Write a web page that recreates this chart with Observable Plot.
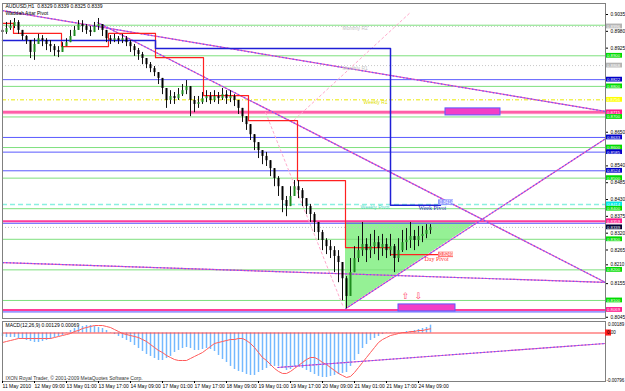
<!DOCTYPE html>
<html><head><meta charset="utf-8">
<script src="https://cdn.jsdelivr.net/npm/d3@7"></script>
<script src="https://cdn.jsdelivr.net/npm/@observablehq/plot@0.6"></script>
<style>
html,body{margin:0;padding:0;background:#fff;}
#wrap{width:625px;}
#wrap svg{display:block;overflow:visible;}
</style></head><body><div id="wrap"></div>
<script>
// ---------- DATA (AUDUSD H1, 11–24 May 2010) ----------
// candles: one every 2 hourly bars; x index = 2*k (bar number)
const firstOpen = 0.8983;
const candleClose = [0.8976,0.8989,0.8996,0.9009,0.8983,0.8963,0.8950,0.8911,0.8937,0.8956,
0.8950,0.8937,0.8930,0.8917,0.8911,0.8930,0.8943,0.8963,0.8983,0.9002,
0.8996,0.8983,0.8976,0.8996,0.9002,0.8983,0.8956,0.8950,0.8956,0.8950,
0.8956,0.8943,0.8930,0.8917,0.8904,0.8891,0.8871,0.8858,0.8845,0.8826,
0.8793,0.8754,0.8767,0.8760,0.8773,0.8786,0.8799,0.8754,0.8741,0.8747,
0.8760,0.8767,0.8754,0.8767,0.8760,0.8773,0.8760,0.8767,0.8754,0.8728,
0.8701,0.8675,0.8642,0.8616,0.8590,0.8571,0.8557,0.8531,0.8499,0.8472,
0.8427,0.8407,0.8440,0.8472,0.8459,0.8433,0.8407,0.8381,0.8355,0.8322,
0.8296,0.8276,0.8263,0.8244,0.8224,0.8171,0.8113,0.8191,0.8237,0.8263,
0.8283,0.8263,0.8276,0.8289,0.8270,0.8283,0.8263,0.8276,0.8237,0.8263,
0.8289,0.8296,0.8309,0.8296,0.8309,0.8316,0.8329,0.8339];
const candleHigh = [0.8996,0.9009,0.9015,0.9022,0.9015,0.8983,0.8966,0.8950,0.8956,0.8970,
0.8966,0.8956,0.8950,0.8937,0.8930,0.8943,0.8956,0.8983,0.8996,0.9015,
0.9015,0.9002,0.8996,0.9009,0.9022,0.9002,0.8983,0.8966,0.8970,0.8963,
0.8970,0.8963,0.8950,0.8937,0.8924,0.8911,0.8891,0.8878,0.8865,0.8845,
0.8819,0.8786,0.8786,0.8780,0.8793,0.8806,0.8819,0.8799,0.8767,0.8767,
0.8780,0.8786,0.8780,0.8786,0.8780,0.8793,0.8786,0.8786,0.8773,0.8754,
0.8728,0.8701,0.8675,0.8642,0.8616,0.8590,0.8584,0.8557,0.8531,0.8505,
0.8466,0.8440,0.8472,0.8492,0.8492,0.8466,0.8433,0.8414,0.8387,0.8355,
0.8329,0.8302,0.8296,0.8276,0.8263,0.8224,0.8178,0.8237,0.8276,0.8309,
0.8355,0.8302,0.8316,0.8329,0.8309,0.8316,0.8302,0.8316,0.8283,0.8302,
0.8329,0.8335,0.8355,0.8329,0.8342,0.8342,0.8348,0.8348];
const candleLow = [0.8963,0.8970,0.8983,0.8989,0.8970,0.8950,0.8937,0.8891,0.8885,0.8937,
0.8930,0.8917,0.8911,0.8898,0.8894,0.8911,0.8930,0.8943,0.8963,0.8983,
0.8976,0.8970,0.8963,0.8976,0.8983,0.8963,0.8943,0.8937,0.8943,0.8937,
0.8940,0.8930,0.8911,0.8898,0.8885,0.8871,0.8858,0.8845,0.8832,0.8806,
0.8773,0.8728,0.8741,0.8741,0.8754,0.8767,0.8773,0.8701,0.8714,0.8728,
0.8741,0.8747,0.8741,0.8747,0.8741,0.8754,0.8741,0.8747,0.8734,0.8708,
0.8682,0.8656,0.8623,0.8590,0.8564,0.8544,0.8538,0.8505,0.8472,0.8440,
0.8387,0.8374,0.8407,0.8440,0.8433,0.8407,0.8381,0.8355,0.8322,0.8296,
0.8263,0.8250,0.8237,0.8191,0.8158,0.8099,0.8073,0.8132,0.8198,0.8224,
0.8244,0.8224,0.8237,0.8250,0.8230,0.8244,0.8237,0.8244,0.8191,0.8224,
0.8257,0.8263,0.8270,0.8263,0.8276,0.8289,0.8302,0.8316];

// MACD(12,26,9): main (histogram) and signal, same candles
const macdMain = [-0.00057,-0.00074,-0.00074,-0.00074,-0.00090,-0.00107,-0.00123,-0.00139,-0.00156,-0.00156,
-0.00139,-0.00123,-0.00107,-0.00074,-0.00057,-0.00041,-0.00008,0.00041,0.00074,0.00090,
0.00107,0.00123,0.00123,0.00107,0.00090,0.00074,0.00041,0.00008,-0.00025,-0.00057,
-0.00090,-0.00123,-0.00156,-0.00205,-0.00254,-0.00303,-0.00353,-0.00385,-0.00418,-0.00451,
-0.00451,-0.00418,-0.00385,-0.00320,-0.00287,-0.00254,-0.00238,-0.00254,-0.00287,-0.00287,
-0.00271,-0.00254,-0.00271,-0.00303,-0.00369,-0.00435,-0.00484,-0.00549,-0.00599,-0.00631,
-0.00648,-0.00681,-0.00697,-0.00697,-0.00648,-0.00615,-0.00582,-0.00549,-0.00549,-0.00549,
-0.00582,-0.00615,-0.00599,-0.00549,-0.00549,-0.00582,-0.00615,-0.00648,-0.00681,-0.00713,
-0.00730,-0.00730,-0.00713,-0.00697,-0.00681,-0.00664,-0.00648,-0.00549,-0.00451,-0.00353,
-0.00254,-0.00189,-0.00123,-0.00090,-0.00057,-0.00025,-0.00008,0.00008,0.00008,0.00008,
0.00008,0.00025,0.00025,0.00041,0.00057,0.00074,0.00090,0.00129];
const macdSignal = [-0.00156,-0.00139,-0.00123,-0.00107,-0.00090,-0.00090,-0.00090,-0.00090,-0.00090,-0.00090,
-0.00090,-0.00090,-0.00090,-0.00074,-0.00057,-0.00041,-0.00025,-0.00008,0.00025,0.00041,
0.00074,0.00090,0.00107,0.00123,0.00123,0.00123,0.00107,0.00090,0.00057,0.00025,
-0.00008,-0.00025,-0.00041,-0.00057,-0.00074,-0.00107,-0.00139,-0.00189,-0.00238,-0.00287,
-0.00320,-0.00369,-0.00402,-0.00435,-0.00451,-0.00451,-0.00451,-0.00418,-0.00385,-0.00353,
-0.00320,-0.00271,-0.00221,-0.00172,-0.00156,-0.00139,-0.00123,-0.00107,-0.00107,-0.00090,
-0.00090,-0.00123,-0.00172,-0.00238,-0.00320,-0.00402,-0.00451,-0.00517,-0.00582,-0.00631,
-0.00664,-0.00664,-0.00631,-0.00582,-0.00533,-0.00484,-0.00435,-0.00402,-0.00402,-0.00435,
-0.00484,-0.00517,-0.00566,-0.00615,-0.00664,-0.00697,-0.00730,-0.00713,-0.00648,-0.00566,
-0.00484,-0.00402,-0.00320,-0.00238,-0.00156,-0.00107,-0.00074,-0.00041,-0.00025,-0.00008,
0.00008,0.00008,0.00025,0.00025,0.00041,0.00041,0.00057,0.00069];

// time axis (bar index of each label)
const timeTickBars = [0,16,32,48,64,80,96,112,128,144,160,176,192,208];
const timeTickLabels = ["11 May 2010","12 May 09:00","13 May 01:00","13 May 17:00","14 May 09:00","17 May 01:00","17 May 17:00","18 May 09:00","19 May 01:00","19 May 17:00","20 May 09:00","21 May 01:00","21 May 17:00","24 May 09:00"];
const lastBar = 301.5;

// price scale ticks that are visible (others are covered by price tags)
const priceTicks = [0.9035,0.8980,0.8925,0.8650,0.8540,0.8485,0.8430,0.8375,0.8320,0.8265,0.8155,0.8045];
const priceTicksTight = [0.8210];   // sits just above the 0.8200 tag
const priceMin = 0.8041, priceMax = 0.9071;

// horizontal levels (tagged = has a price tag on the scale)
const levelPrice = [0.9000,0.8996,0.8900,0.8868,0.8822,0.8800,0.8756,0.8715,0.8700,0.8633,0.8600,0.8585,0.8524,0.8500,0.8414,0.8400,0.8359,0.8339,0.8300,0.8200,0.8100,0.8069];
const levelKind  = ["round","monthly","round","monthly","blue","round","weeklyR1","pink","round","blue","round","blue","blue","round","weeklyPivot","round","pinkBlue","bid","round","round","round","pinkBlue"];
const levelTagged = [false,true,true,true,true,true,true,true,true,true,true,true,true,true,true,true,true,true,true,true,true,true];

// trend lines
const trendBar1   = [0, 47.5, 171.5, 0];
const trendPrice1 = [0.9048, 0.9009, 0.8073, 0.8224];
const trendBar2   = [301.5, 301.5, 301.5, 301.5];
const trendPrice2 = [0.8718, 0.8159, 0.8629, 0.8159];

// dashed fan lines
const fanBar1 = [145.5, 131.5];
const fanPrice1 = [0.8688, 0.8715];
const fanBar2 = [204, 170.5];
const fanPrice2 = [0.9042, 0.8077];

// Waddah Attar daily pivot (red) and weekly pivot (blue) steps
const dayPivotBar   = [0,5.5,29.5,53,76.5,100.5,123,147.5,171.5,194,219];
const dayPivotPrice = [0.9006,0.8973,0.8930,0.8973,0.8894,0.8770,0.8688,0.8492,0.8273,0.8250,0.8250];
const weekPivotBar   = [0,76.5,194,219];
const weekPivotPrice = [0.8950,0.8924,0.8411,0.8411];

// triangle (green)
const triBar = [171.5, 238];
const triLow = [0.8073, 0.8359];
const triTop = [0.8359, 0.8359];

// magenta zones
const zoneBar1 = [221.5, 198];
const zoneBar2 = [249, 226.5];
const zonePrice1 = [0.8705, 0.8064];
const zonePrice2 = [0.8728, 0.8087];

// arrows
const arrowBar = [201.5, 208];
const arrowPrice = [0.8113, 0.8113];
const arrowGlyph = ["⇧","⇩"];

// object labels
const noteText  = ["Monthly R2","Monthly R1","Weekly R1","Weekly Pivot"];
const noteBar   = [170, 170, 180.5, 179];
const notePrice = [0.8990, 0.8858, 0.8747, 0.8404];
const noteKind  = ["monthly","monthly","weeklyR1","weeklyPivot"];
const pivotTagText  = ["Week Pivot","Day Pivot"];
const pivotTagBar   = [208, 211];
const pivotTagPrice = [0.8401, 0.8234];
const pivotBoxValue = [0.8414, 0.8249];
const pivotBoxPrice = [0.8420, 0.8249];
const pivotBoxBar   = [218, 218];

// MACD trend line
const macdTrendBar = [137.5, 301.5];
const macdTrendVal = [-0.00566, -0.00172];
const macdTicks = [0.00189, -0.00796];
const macdMin = -0.00796, macdMax = 0.00189;

const header1 = "AUDUSD,H1  0.8329 0.8339 0.8325 0.8339";
const header2 = "Waddah Attar Pivot";
const macdHeader = "MACD(12,26,9) 0.00129 0.00069";
const copyright = "IXON Royal Trader, © 2001-2009 MetaQuotes Software Corp.";

// ---------- BUILD ----------
const FONT = "'Liberation Sans', Arial, sans-serif";
const candles = candleClose.map((c, i) => {
  const open = i === 0 ? firstOpen : candleClose[i - 1];
  return {x: 2 * i, open, close: c,
    high: Math.max(candleHigh[i], open, c), low: Math.min(candleLow[i], open, c)};
});
const levels = levelPrice.map((p, i) => ({price: p, kind: levelKind[i], tagged: levelTagged[i], x1: lastBar, x2: lastBar + 8.5}));
const tagged = levels.filter(d => d.tagged);
const kindStyle = {
  round:       {stroke: "#7ee07e", dash: null,      width: 1,   label: "#00dc00", text: "#c4c4c4"},
  monthly:     {stroke: "#c8c8c8", dash: "1,2",     width: 1,   label: "#b4b4b4", text: "#c4c4c4"},
  blue:        {stroke: "#5a5aff", dash: null,      width: 1,   label: "#0000c8", text: "#2a2ac0"},
  weeklyR1:    {stroke: "#eaea00", dash: "4,2,1,2", width: 1,   label: "#ffff00", text: "#e0e000"},
  pink:        {stroke: "#ff5fa8", dash: null,      width: 2.5, label: "#ff1a8c", text: "#ff3030"},
  pinkBlue:    {stroke: "#ff3d9a", dash: null,      width: 2,   label: "#ff1a8c", text: "#ff3030"},
  weeklyPivot: {stroke: "#8af0e0", dash: "5,3",     width: 1.5, label: "#00e8e8", text: "#4fd8c8"},
  bid:         {stroke: "#c0c0c0", dash: "1,2",     width: 1,   label: "#000033", text: "#000"}
};
const trends = trendBar1.map((b, i) => ({x1: b, y1: trendPrice1[i], x2: trendBar2[i], y2: trendPrice2[i]}));
const fans = fanBar1.map((b, i) => ({x1: b, y1: fanPrice1[i], x2: fanBar2[i], y2: fanPrice2[i]}));
const daySteps = dayPivotBar.map((b, i) => ({x: b, y: dayPivotPrice[i]}));
const weekSteps = weekPivotBar.map((b, i) => ({x: b, y: weekPivotPrice[i]}));
const tri = triBar.map((b, i) => ({x: b, lo: triLow[i], hi: triTop[i]}));
const zones = zoneBar1.map((b, i) => ({x1: b, x2: zoneBar2[i], y1: zonePrice1[i], y2: zonePrice2[i]}));
const arrows = arrowBar.map((b, i) => ({x: b, y: arrowPrice[i], t: arrowGlyph[i]}));
const notes = noteText.map((t, i) => ({t, x: noteBar[i], y: notePrice[i], c: kindStyle[noteKind[i]].text}));
const tags = pivotTagText.map((t, i) => ({t, x: pivotTagBar[i], y: pivotTagPrice[i], c: i === 0 ? "#2a2ac0" : "#ff3030",
  bx1: pivotBoxBar[i], bx2: pivotBoxBar[i] + 7.5, by: pivotBoxPrice[i], bv: pivotBoxValue[i], bc: i === 0 ? "#8c96ff" : "#ff7a7a"}));
const labelHalf = 0.00078;

const levelMarks = [];
for (const k of Object.keys(kindStyle)) {
  const s = kindStyle[k];
  const d = levels.filter(l => l.kind === k);
  if (!d.length) continue;
  if (k === "pinkBlue") levelMarks.push(Plot.ruleY(d, {y: "price", stroke: "#4f4fff", strokeWidth: 1, dy: 2}));
  if (k === "pink") levelMarks.push(Plot.ruleY(d, {y: "price", stroke: "#ffc0dc", strokeWidth: 4}));
  levelMarks.push(Plot.ruleY(d, {y: "price", stroke: s.stroke, strokeWidth: s.width, strokeDasharray: s.dash}));
}

const main = Plot.plot({
  width: 625, height: 320, marginTop: 3, marginBottom: 2, marginLeft: 2, marginRight: 20,
  style: {fontFamily: FONT, fontSize: "5px", background: "#fff", overflow: "visible"},
  x: {domain: [0, lastBar], axis: null},
  y: {domain: [priceMin, priceMax], axis: null},
  marks: [
    Plot.areaY(tri, {x: "x", y1: "lo", y2: "hi", fill: "#8ff08f", fillOpacity: 0.95}),
    ...levelMarks,
    Plot.link(fans, {x1: "x1", y1: "y1", x2: "x2", y2: "y2", stroke: "#ffaacc", strokeDasharray: "3,2", strokeWidth: 1}),
    Plot.link(trends, {x1: "x1", y1: "y1", x2: "x2", y2: "y2", stroke: "#f050b8", strokeWidth: 1.2}),
    Plot.link(trends, {x1: "x1", y1: "y1", x2: "x2", y2: "y2", stroke: "#6a5cff", strokeWidth: 1.2, strokeDasharray: "1.5,2"}),
    Plot.line(daySteps, {x: "x", y: "y", curve: "step-after", stroke: "#ff2020", strokeWidth: 1.2}),
    Plot.line(weekSteps, {x: "x", y: "y", curve: "step-after", stroke: "#1f1fd6", strokeWidth: 1.5}),
    Plot.ruleX(candles, {x: "x", y1: "low", y2: "high", stroke: "#111", strokeWidth: 1}),
    Plot.ruleX(candles, {x: "x", y1: "open", y2: "close", stroke: d => d.close >= d.open ? "#1e8c1e" : "#000", strokeWidth: 2}),
    Plot.rect(zones, {x1: "x1", x2: "x2", y1: "y1", y2: "y2", fill: "#f23fc6", stroke: "#5a5aff", strokeWidth: 1}),
    Plot.text(arrows, {x: "x", y: "y", text: "t", fill: "#ff4466", fontSize: 9, fontFamily: "DejaVu Sans"}),
    Plot.text(notes, {x: "x", y: "y", text: "t", fill: "c", textAnchor: "start"}),
    Plot.text(tags, {x: "x", y: "y", text: "t", fill: "c", textAnchor: "start", fontFamily: "Liberation Serif", fontSize: 6}),
    Plot.rect(tags, {x1: "bx1", x2: "bx2", y1: d => d.by - 0.0009, y2: d => d.by + 0.0009, fill: "bc"}),
    Plot.text(tags, {x: "bx1", y: "by", text: d => d.bv.toFixed(4), fill: "#fff", textAnchor: "start", dx: 1, fontSize: 4.5}),
    Plot.axisY({anchor: "right", ticks: priceTicks, tickFormat: d => d.toFixed(4), tickSize: 2, tickPadding: 3, fontSize: 4.8}),
    Plot.axisY({anchor: "right", ticks: priceTicksTight, tickFormat: d => d.toFixed(4), tickSize: 2, tickPadding: 3, fontSize: 4.5, dy: -2}),
    Plot.rect(tagged, {x1: "x1", x2: "x2", y1: d => d.price - labelHalf, y2: d => d.price + labelHalf, fill: d => kindStyle[d.kind].label}),
    Plot.text(tagged, {x: "x1", y: "price", text: d => d.price.toFixed(4), fill: "#fff", textAnchor: "start", dx: 1.5, fontSize: 4.3}),
    Plot.frame({stroke: "#808080"}),
    Plot.text([header1], {frameAnchor: "top-left", text: d => d, dx: 3, dy: 1, lineAnchor: "top", fill: "#000"}),
    Plot.text([header2], {frameAnchor: "top-left", text: d => d, dx: 3, dy: 8, lineAnchor: "top", fill: "#000"})
  ]
});

const macdData = macdMain.map((v, i) => ({x: 2 * i, hist: v, zero: 0, signal: macdSignal[i]}));
const macdTrend = [{x1: macdTrendBar[0], y1: macdTrendVal[0], x2: macdTrendBar[1], y2: macdTrendVal[1]}];
const tickMap = new Map(timeTickBars.map((b, i) => [b, timeTickLabels[i]]));
const macdScale = macdTicks.map(v => ({v, x: lastBar}));
const zeroTag = [{x1: lastBar, x2: lastBar + 3, y1: -0.0005, y2: 0.0005, v: 0}];

const macd = Plot.plot({
  width: 625, height: 71, marginTop: 1, marginBottom: 10, marginLeft: 2, marginRight: 20,
  style: {fontFamily: FONT, fontSize: "5px", background: "#fff", overflow: "visible"},
  x: {domain: [0, lastBar], axis: null},
  y: {domain: [macdMin, macdMax], axis: null},
  marks: [
    Plot.ruleX(macdData, {x: "x", y1: "zero", y2: "hist", stroke: "#74b9ff", strokeWidth: 1.5}),
    Plot.ruleY([0], {y: d => d, stroke: "#ff4040", strokeWidth: 1.2}),
    Plot.line(macdData, {x: "x", y: "signal", stroke: "#ff5a5a", strokeWidth: 1}),
    Plot.link(macdTrend, {x1: "x1", y1: "y1", x2: "x2", y2: "y2", stroke: "#f050b8", strokeWidth: 1.2}),
    Plot.link(macdTrend, {x1: "x1", y1: "y1", x2: "x2", y2: "y2", stroke: "#6a5cff", strokeWidth: 1.2, strokeDasharray: "1.5,2"}),
    Plot.frame({stroke: "#808080"}),
    Plot.axisX({ticks: timeTickBars, tickFormat: d => tickMap.get(d), tickSize: 2, tickPadding: 1, fontSize: 5, textAnchor: "start"}),
    Plot.text(macdScale.slice(0, 1), {x: "x", y: "v", text: d => d.v.toFixed(5), textAnchor: "start", lineAnchor: "top", dx: 2.5, dy: 1, fill: "#000", fontSize: 4.5}),
    Plot.text(macdScale.slice(1), {x: "x", y: "v", text: d => d.v.toFixed(5), textAnchor: "start", lineAnchor: "bottom", dx: 1, fill: "#000", fontSize: 4.5}),
    Plot.rect(zeroTag, {x1: "x1", x2: "x2", y1: "y1", y2: "y2", fill: "#ff2020"}),
    Plot.text(zeroTag, {x: "x1", y: "v", text: d => d.v.toFixed(2), textAnchor: "start", dx: 1.5, fill: "#000", fontSize: 4.5}),
    Plot.text([macdHeader], {frameAnchor: "top-left", text: d => d, dx: 3, dy: 2, lineAnchor: "top", fill: "#000"}),
    Plot.text([copyright], {frameAnchor: "bottom-left", text: d => d, dx: 3, dy: -2, lineAnchor: "bottom", fill: "#333"})
  ]
});

const wrap = document.getElementById("wrap");
wrap.appendChild(main);
wrap.appendChild(macd);
</script></body></html>
